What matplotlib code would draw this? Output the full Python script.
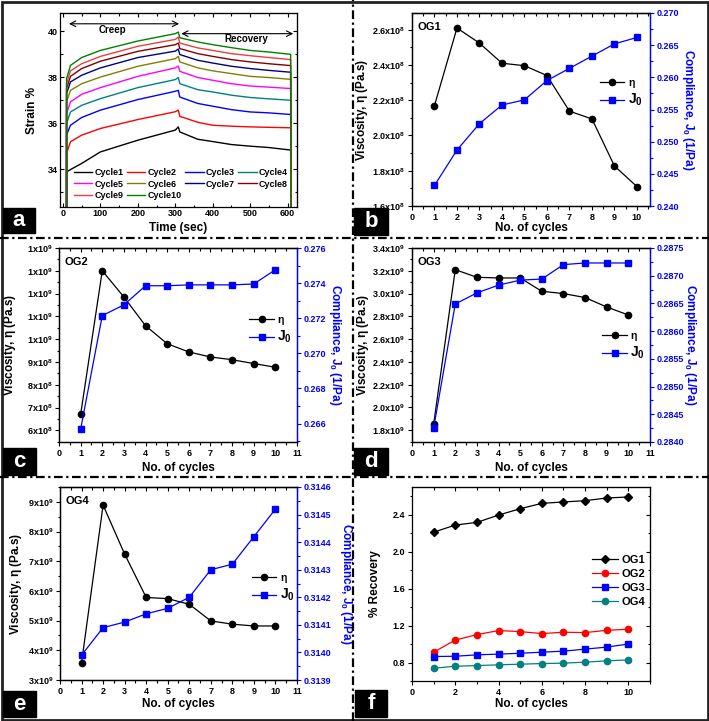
import numpy as np
import matplotlib
matplotlib.use('Agg')
import matplotlib.pyplot as plt
from matplotlib.ticker import MultipleLocator, AutoMinorLocator, FuncFormatter, FormatStrFormatter, NullFormatter
from matplotlib.patches import Rectangle
from matplotlib.lines import Line2D

plt.rcParams['font.family'] = ['Liberation Sans', 'DejaVu Sans']
plt.rcParams['font.weight'] = 'bold'
plt.rcParams['axes.labelweight'] = 'bold'
plt.rcParams['mathtext.fontset'] = 'custom'
plt.rcParams['mathtext.rm'] = 'Liberation Sans:bold'
plt.rcParams['mathtext.bf'] = 'Liberation Sans:bold'
plt.rcParams['mathtext.default'] = 'bf'

# ---- data ----
# (a) creep / recovery strain curves
time_s = [9.5, 20, 50, 100, 200, 300, 308, 312, 360, 400, 450, 500, 550, 608]
cycle_names = ['Cycle1', 'Cycle2', 'Cycle3', 'Cycle4', 'Cycle5',
               'Cycle6', 'Cycle7', 'Cycle8', 'Cycle9', 'Cycle10']
cycle1 = [33.88, 33.98, 34.25, 34.75, 35.26, 35.70, 35.84, 35.62, 35.30, 35.20, 35.07, 35.00, 34.94, 34.83]
cycle2 = [34.68, 35.19, 35.48, 35.77, 36.16, 36.50, 36.57, 36.30, 36.04, 35.91, 35.87, 35.84, 35.82, 35.80]
cycle3 = [35.48, 35.91, 36.25, 36.57, 37.03, 37.39, 37.43, 37.14, 36.86, 36.74, 36.59, 36.49, 36.45, 36.38]
cycle4 = [35.99, 36.49, 36.78, 37.07, 37.55, 37.90, 37.99, 37.72, 37.46, 37.36, 37.22, 37.12, 37.06, 37.00]
cycle5 = [36.42, 36.93, 37.26, 37.55, 38.04, 38.41, 38.49, 38.26, 37.99, 37.87, 37.72, 37.62, 37.57, 37.51]
cycle6 = [36.93, 37.43, 37.72, 38.01, 38.48, 38.81, 38.91, 38.67, 38.41, 38.28, 38.16, 38.04, 37.99, 37.91]
cycle7 = [37.29, 37.80, 38.09, 38.41, 38.86, 39.14, 39.23, 38.99, 38.74, 38.62, 38.48, 38.38, 38.30, 38.22]
cycle8 = [37.51, 38.04, 38.38, 38.70, 39.13, 39.42, 39.49, 39.25, 39.03, 38.91, 38.77, 38.67, 38.59, 38.51]
cycle9 = [37.72, 38.28, 38.59, 38.91, 39.35, 39.65, 39.75, 39.49, 39.28, 39.17, 39.03, 38.94, 38.86, 38.77]
cycle10 = [37.94, 38.52, 38.86, 39.17, 39.58, 39.90, 39.97, 39.72, 39.54, 39.42, 39.29, 39.17, 39.10, 39.00]
cycles = [cycle1, cycle2, cycle3, cycle4, cycle5, cycle6, cycle7, cycle8, cycle9, cycle10]
cycle_colors = ['black', 'red', 'blue', '#008080', 'magenta',
                '#808000', '#000080', '#800000', '#e84040', '#008000']

n_cycles = [1, 2, 3, 4, 5, 6, 7, 8, 9, 10]

# (b) OG1
og1_eta = [2.17e8, 2.61e8, 2.524e8, 2.41e8, 2.396e8, 2.34e8, 2.138e8, 2.094e8, 1.827e8, 1.71e8]
og1_j0 = [0.2432, 0.2487, 0.2528, 0.2557, 0.2565, 0.2595, 0.2614, 0.2633, 0.2652, 0.2662]
# (c) OG2
og2_eta = [6.7e8, 1.3e9, 1.185e9, 1.059e9, 0.98e9, 0.944e9, 0.922e9, 0.91e9, 0.893e9, 0.877e9]
og2_j0 = [0.26568, 0.27215, 0.27276, 0.27385, 0.27385, 0.2739, 0.2739, 0.2739, 0.27395, 0.27476]
# (d) OG3
og3_eta = [1.853e9, 3.21e9, 3.143e9, 3.137e9, 3.137e9, 3.02e9, 3.0e9, 2.965e9, 2.882e9, 2.812e9]
og3_j0 = [0.28425, 0.28649, 0.28669, 0.28683, 0.28692, 0.28694, 0.2872, 0.28723, 0.28723, 0.28723]
# (e) OG4
og4_eta = [3.58e9, 8.89e9, 7.24e9, 5.78e9, 5.74e9, 5.55e9, 4.99e9, 4.88e9, 4.82e9, 4.82e9]
og4_j0 = [0.31399, 0.31409, 0.31411, 0.31414, 0.31416, 0.3142, 0.3143, 0.31432, 0.31442, 0.31452]

# (f) % recovery
rec_og1 = [2.211, 2.288, 2.317, 2.396, 2.465, 2.523, 2.538, 2.552, 2.581, 2.592]
rec_og2 = [0.912, 1.043, 1.102, 1.146, 1.135, 1.113, 1.128, 1.124, 1.149, 1.160]
rec_og3 = [0.865, 0.868, 0.883, 0.891, 0.900, 0.912, 0.923, 0.945, 0.967, 1.000]
rec_og4 = [0.738, 0.760, 0.767, 0.775, 0.782, 0.789, 0.793, 0.804, 0.818, 0.829]

W, H = 709, 721
fig = plt.figure(figsize=(W / 100, H / 100), dpi=100)


def rect(l, t, r, b):
    return [l / W, 1 - b / H, (r - l) / W, (b - t) / H]


TICK_FS = 6.5
LAB_FS = 8.5


def style_axes(ax, right=True, direction='out'):
    ax.tick_params(axis='both', which='both', labelsize=TICK_FS, width=0.8,
                   direction=direction, pad=1.8)
    ax.tick_params(which='major', length=3)
    ax.tick_params(which='minor', length=1.8)
    for sp in ax.spines.values():
        sp.set_linewidth(0.9)
    # mirrored inward ticks on top (and right)
    top = ax.secondary_xaxis('top')
    top.xaxis.set_major_locator(ax.xaxis.get_major_locator())
    top.xaxis.set_minor_locator(ax.xaxis.get_minor_locator())
    top.xaxis.set_major_formatter(NullFormatter())
    top.tick_params(which='both', direction='in', width=0.8)
    top.tick_params(which='major', length=3)
    top.tick_params(which='minor', length=1.8)
    if right:
        rt = ax.secondary_yaxis('right')
        rt.yaxis.set_major_locator(ax.yaxis.get_major_locator())
        rt.yaxis.set_minor_locator(ax.yaxis.get_minor_locator())
        rt.yaxis.set_major_formatter(NullFormatter())
        rt.tick_params(which='both', direction='in', width=0.8)
        rt.tick_params(which='major', length=3)
        rt.tick_params(which='minor', length=1.8)


def place_labels(ax, xlab_y, ylab_x):
    ax.xaxis.set_label_coords(0.5, xlab_y)
    ax.yaxis.set_label_coords(ylab_x, 0.5)
    ax.xaxis.label.set_verticalalignment('center')
    ax.yaxis.label.set_verticalalignment('center')


def sci_fmt(dec):
    def f(v, pos):
        if v <= 0:
            return ''
        e = int(np.floor(np.log10(v) + 1e-9))
        m = v / 10 ** e
        return f'{m:.{dec}f}x10$^{{{e}}}$'
    return FuncFormatter(f)


def twin_panel(r, eta, j0, name, eta_lim, eta_step, eta_dec, j_lim, j_step, j_fmt,
               xmax, xlab_y, ylab_x, rlab_x, leg_xy):
    ax = fig.add_axes(rect(*r))
    ax.plot(n_cycles, eta, '-o', color='black', ms=4.5, lw=0.9, label=r'$\eta$')
    ax.set_xlim(0, xmax)
    ax.set_ylim(*eta_lim)
    ax.xaxis.set_major_locator(MultipleLocator(1))
    ax.xaxis.set_minor_locator(AutoMinorLocator(2))
    ax.yaxis.set_major_locator(MultipleLocator(eta_step))
    ax.yaxis.set_minor_locator(AutoMinorLocator(2))
    ax.yaxis.set_major_formatter(sci_fmt(eta_dec))
    style_axes(ax, right=False)
    ax.set_xlabel('No. of cycles', fontsize=LAB_FS)
    ax.set_ylabel(r'Viscosity, $\eta$ (Pa.s)', fontsize=LAB_FS)
    place_labels(ax, xlab_y, ylab_x)
    ax.text(0.025, 0.93, name, transform=ax.transAxes, fontsize=8, va='center', ha='left')

    ax2 = ax.twinx()
    ax2.plot(n_cycles, j0, '-s', color='blue', ms=4.5, lw=0.9, label=r'J$_0$')
    ax2.set_ylim(*j_lim)
    ax2.yaxis.set_major_locator(MultipleLocator(j_step))
    ax2.yaxis.set_minor_locator(AutoMinorLocator(2))
    ax2.yaxis.set_major_formatter(FormatStrFormatter(j_fmt))
    ax2.tick_params(axis='y', which='both', colors='blue', labelsize=TICK_FS,
                    direction='out', width=0.8, pad=1.8)
    ax2.tick_params(which='major', length=3)
    ax2.tick_params(which='minor', length=1.8)
    for sp in ax2.spines.values():
        sp.set_linewidth(0.9)
    ax2.spines['right'].set_color('blue')
    ax2.set_ylabel(r'Compliance, J$_0$ (1/Pa)', fontsize=LAB_FS, color='blue',
                   rotation=270)
    ax2.yaxis.set_label_coords(rlab_x, 0.5)
    ax2.yaxis.label.set_verticalalignment('center')

    h1, l1 = ax.get_legend_handles_labels()
    h2, l2 = ax2.get_legend_handles_labels()
    leg = ax2.legend(h1 + h2, l1 + l2, loc='center left', bbox_to_anchor=leg_xy,
                     frameon=False, fontsize=8, handlelength=2.2, handletextpad=0.3,
                     labelspacing=0.15, borderaxespad=0, borderpad=0)
    leg.get_texts()[0].set_fontsize(7.5)
    leg.get_texts()[1].set_fontsize(10)
    return ax, ax2


# ---- (a) ----
axa = fig.add_axes(rect(60, 13, 297, 207))
lines_a = []
for name, vals, c in zip(cycle_names, cycles, cycle_colors):
    t = [time_s[0]] + time_s + [time_s[-1] + 1]
    y = [30.0] + vals + [30.0]
    ln, = axa.plot(t, y, color=c, lw=1.0, label=name)
    lines_a.append(ln)
axa.set_xlim(-8, 625)
axa.set_ylim(32.35, 40.8)
axa.xaxis.set_major_locator(MultipleLocator(100))
axa.xaxis.set_minor_locator(AutoMinorLocator(2))
axa.yaxis.set_major_locator(MultipleLocator(2))
axa.yaxis.set_minor_locator(AutoMinorLocator(2))
style_axes(axa, direction='in')
axa.set_xlabel('Time (sec)', fontsize=LAB_FS)
axa.set_ylabel('Strain %', fontsize=LAB_FS)
place_labels(axa, -0.108, -0.118)
axa.annotate('', xy=(16, 40.33), xytext=(310, 40.33),
             arrowprops=dict(arrowstyle='<->', lw=0.8, color='black', shrinkA=0, shrinkB=0))
axa.annotate('', xy=(316, 39.9), xytext=(615, 39.9),
             arrowprops=dict(arrowstyle='<->', lw=0.8, color='black', shrinkA=0, shrinkB=0))
axa.text(133, 40.08, 'Creep', fontsize=7, ha='center', va='center')
axa.text(490, 39.65, 'Recovery', fontsize=7, ha='center', va='center')
# row-wise legend order: columns hold (1,5,9), (2,6,10), (3,7), (4,8)
order = [0, 4, 8, 1, 5, 9, 2, 6, 3, 7]
axa.legend([lines_a[i] for i in order], [cycle_names[i] for i in order],
           loc='lower center', bbox_to_anchor=(0.51, 0.035), ncol=4, frameon=False,
           fontsize=6.5, handlelength=2.0, handletextpad=0.22, columnspacing=0.44,
           labelspacing=0.3, borderpad=0, borderaxespad=0)

# ---- (b)-(e) ----
twin_panel((412, 13, 650, 206), og1_eta, og1_j0, 'OG1', (1.6e8, 2.695e8), 0.2e8, 1,
           (0.240, 0.270), 0.005, '%.3f', 10.58, -0.114, -0.21, 1.16, (0.79, 0.585))
twin_panel((59, 248, 297, 442), og2_eta, og2_j0, 'OG2', (5.49e8, 1.4e9), 1e8, 0,
           (0.26495, 0.276), 0.002, '%.3f', 11, -0.134, -0.206, 1.16, (0.80, 0.577))
twin_panel((412, 248, 650, 442), og3_eta, og3_j0, 'OG3', (1.697e9, 3.4e9), 0.2e9, 1,
           (0.2840, 0.2875), 0.0005, '%.4f', 11, -0.134, -0.206, 1.168, (0.80, 0.495))
twin_panel((60, 487, 297, 680), og4_eta, og4_j0, 'OG4', (3e9, 9.5e9), 1e9, 0,
           (0.3139, 0.3146), 0.0001, '%.4f', 11, -0.124, -0.186, 1.207, (0.81, 0.477))

# ---- (f) ----
axf = fig.add_axes(rect(412, 487, 650, 681))
axf.plot(n_cycles, rec_og1, '-D', color='black', ms=4.5, lw=0.9, label='OG1')
axf.plot(n_cycles, rec_og2, '-o', color='red', ms=4.5, lw=0.9, label='OG2')
axf.plot(n_cycles, rec_og3, '-s', color='blue', ms=4.5, lw=0.9, label='OG3')
axf.plot(n_cycles, rec_og4, '-o', color='#008080', ms=4.5, lw=0.9, label='OG4')
axf.set_xlim(0, 11)
axf.set_ylim(0.6, 2.7)
axf.xaxis.set_major_locator(MultipleLocator(2))
axf.xaxis.set_minor_locator(AutoMinorLocator(2))
axf.yaxis.set_major_locator(MultipleLocator(0.4))
axf.yaxis.set_minor_locator(AutoMinorLocator(2))
axf.yaxis.set_major_formatter(FormatStrFormatter('%.1f'))
style_axes(axf)
axf.set_xlabel('No. of cycles', fontsize=LAB_FS)
axf.set_ylabel('% Recovery', fontsize=LAB_FS)
place_labels(axf, -0.119, -0.155)
axf.legend(loc='center left', bbox_to_anchor=(0.755, 0.515), frameon=False, fontsize=8,
           handlelength=2.4, handletextpad=0.3, labelspacing=0.35, borderpad=0, borderaxespad=0)

# ---- frame, separators, panel letters ----
fig.add_artist(Rectangle((1.5 / W, 1.5 / H), 1 - 3 / W, 1 - 3 / H, transform=fig.transFigure,
                         fill=False, lw=2, edgecolor='#222222'))
dash = (0, (3.9, 1.6, 1, 1.6))
fig.add_artist(Line2D([353 / W, 353 / W], [0, 1], transform=fig.transFigure,
                      color='black', lw=1.6, linestyle=dash))
for yy in (238, 477):
    fig.add_artist(Line2D([0, 1], [1 - yy / H, 1 - yy / H], transform=fig.transFigure,
                          color='black', lw=1.6, linestyle=dash))

letters = ['a', 'b', 'c', 'd', 'e', 'f']
boxes = [(3, 208, 35, 233), (354, 208, 388, 235), (3, 448, 36, 475),
         (354, 448, 388, 475), (3, 691, 36, 717), (355, 690, 387, 717)]
for letter, (l, t, r, b) in zip(letters, boxes):
    fig.add_artist(Rectangle((l / W, 1 - b / H), (r - l) / W, (b - t) / H,
                             transform=fig.transFigure, color='black', zorder=5))
    fig.text((l + r) / 2 / W, 1 - (t + b) / 2 / H, letter, color='white', fontsize=16,
             ha='center', va='center', zorder=6)

fig.savefig('out.png', dpi=100)
